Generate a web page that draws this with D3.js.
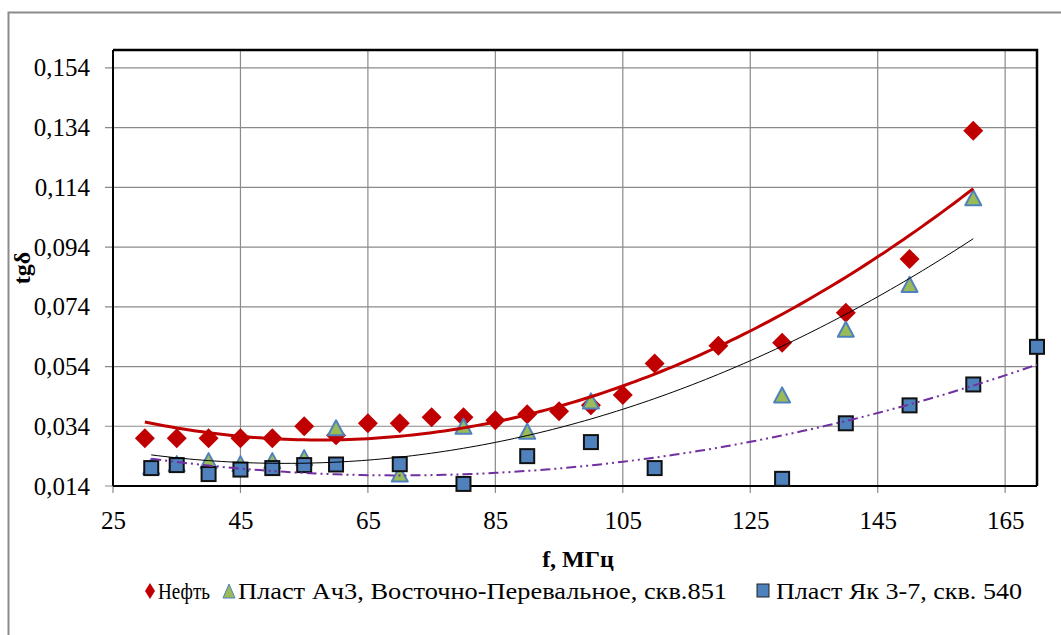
<!DOCTYPE html>
<html>
<head>
<meta charset="utf-8">
<script src="https://cdn.jsdelivr.net/npm/d3@7"></script>
<style>
  body { margin: 0; background: #fff; }
  svg { display: block; }
</style>
</head>
<body>
<svg id="chart" width="1061" height="635"></svg>
<script>
// data
const oilF   = [30, 35, 40, 45, 50, 55, 60, 65, 70, 75, 80, 85, 90, 95, 100, 105, 110, 120, 130, 140, 150, 160];
const oilTg  = [0.030, 0.030, 0.030, 0.030, 0.030, 0.034, 0.031, 0.035, 0.035, 0.037, 0.037, 0.036, 0.038, 0.039, 0.041, 0.0445, 0.055, 0.061, 0.062, 0.072, 0.090, 0.133];

const ach3F  = [31, 35, 40, 45, 50, 55, 60, 70, 80, 90, 100, 130, 140, 150, 160];
const ach3Tg = [0.020, 0.021, 0.022, 0.021, 0.022, 0.023, 0.033, 0.0175, 0.0335, 0.0318, 0.042, 0.044, 0.066, 0.081, 0.110];

const yakF   = [31, 35, 40, 45, 50, 55, 60, 70, 80, 90, 100, 110, 130, 140, 150, 160, 170];
const yakTg  = [0.020, 0.021, 0.018, 0.0195, 0.020, 0.021, 0.0212, 0.0213, 0.0147, 0.024, 0.0287, 0.020, 0.0164, 0.035, 0.041, 0.048, 0.0606];

const xTicks = [25, 45, 65, 85, 105, 125, 145, 165];
const yTicks = [0.014, 0.034, 0.054, 0.074, 0.094, 0.114, 0.134, 0.154];

const seriesNames = ["Нефть", "Пласт Ач3, Восточно-Перевальное, скв.851", "Пласт Як 3-7, скв. 540"];

const serif = "Liberation Serif";
const svg = d3.select("#chart");
const pLeft = 113, pRight = 1037, pTop = 50, pBottom = 486;

const x = d3.scaleLinear().domain([25, 170]).range([pLeft, pRight]);
const y = d3.scaleLinear().domain([0.014, 0.16]).range([pBottom, pTop]);

const ru = d3.formatLocale({decimal: ",", thousands: " ", grouping: [3], currency: ["", ""]});
const fmtY = ru.format(".3f");

// outer chart frame
svg.append("rect")
  .attr("x", 8.5).attr("y", 12.5).attr("width", 1070).attr("height", 640)
  .attr("fill", "none").attr("stroke", "#8c8c8c").attr("stroke-width", 2);

// grid
const grid = svg.append("g");
grid.selectAll("line.v").data(xTicks).enter().append("line")
  .attr("x1", d => x(d)).attr("x2", d => x(d))
  .attr("y1", pTop).attr("y2", pBottom + 7)
  .attr("stroke", "#8a8a8a").attr("stroke-width", 1.2);
grid.selectAll("line.h").data(yTicks).enter().append("line")
  .attr("x1", pLeft - 8).attr("x2", pRight)
  .attr("y1", d => y(d)).attr("y2", d => y(d))
  .attr("stroke", "#8a8a8a").attr("stroke-width", 1.2);

// axes
const xAxis = svg.append("g")
  .attr("transform", `translate(0,${pBottom})`)
  .call(d3.axisBottom(x).tickValues(xTicks).tickSize(0).tickSizeOuter(0).tickPadding(20).tickFormat(d3.format("d")));
const yAxis = svg.append("g")
  .attr("transform", `translate(${pLeft},0)`)
  .call(d3.axisLeft(y).tickValues(yTicks).tickSize(0).tickSizeOuter(0).tickPadding(23).tickFormat(fmtY));
[xAxis, yAxis].forEach(a => {
  a.select(".domain").remove();
  a.selectAll("text").attr("font-size", 25).attr("font-family", serif).attr("fill", "#000");
});
xAxis.selectAll("text").attr("dy", "0.35em").attr("y", 34);

// plot frame
svg.append("line").attr("x1", pLeft).attr("x2", pRight).attr("y1", pBottom).attr("y2", pBottom)
  .attr("stroke", "#000").attr("stroke-width", 2);
svg.append("line").attr("x1", pLeft).attr("x2", pLeft).attr("y1", pTop).attr("y2", pBottom)
  .attr("stroke", "#000").attr("stroke-width", 2);
svg.append("path").attr("d", `M${pLeft},${pTop}H${pRight}V${pBottom}`)
  .attr("fill", "none").attr("stroke", "#000").attr("stroke-width", 2.5);

// markers
const plot = svg.append("g");
plot.selectAll("path.oil").data(oilF).enter().append("path")
  .attr("transform", (d, i) => `translate(${x(d)},${y(oilTg[i])})`)
  .attr("d", "M0,-10L10,0L0,10L-10,0Z")
  .attr("fill", "#c00000");

plot.selectAll("path.ach").data(ach3F).enter().append("path")
  .attr("transform", (d, i) => `translate(${x(d)},${y(ach3Tg[i])})`)
  .attr("d", "M0,-9L8,6L-8,6Z")
  .attr("fill", "#9bbb59").attr("stroke", "#4f81bd").attr("stroke-width", 2).attr("stroke-linejoin", "round");

plot.selectAll("rect.yak").data(yakF).enter().append("rect")
  .attr("x", d => x(d) - 7).attr("y", (d, i) => y(yakTg[i]) - 7)
  .attr("width", 14).attr("height", 14)
  .attr("fill", "#4f81bd").attr("stroke", "#111").attr("stroke-width", 2);

// quadratic least-squares trend (like the spreadsheet's polynomial trendline)
function polyFit(xs, ys) {
  let S = [[0, 0, 0], [0, 0, 0], [0, 0, 0]], B = [0, 0, 0];
  xs.forEach((xv, i) => {
    const p = [1, xv, xv * xv];
    for (let r = 0; r < 3; r++) {
      B[r] += p[r] * ys[i];
      for (let c = 0; c < 3; c++) S[r][c] += p[r] * p[c];
    }
  });
  // gaussian elimination
  for (let k = 0; k < 3; k++) {
    for (let r = k + 1; r < 3; r++) {
      const m = S[r][k] / S[k][k];
      for (let c = k; c < 3; c++) S[r][c] -= m * S[k][c];
      B[r] -= m * B[k];
    }
  }
  const a = [0, 0, 0];
  for (let r = 2; r >= 0; r--) {
    let s = B[r];
    for (let c = r + 1; c < 3; c++) s -= S[r][c] * a[c];
    a[r] = s / S[r][r];
  }
  return f => a[0] + a[1] * f + a[2] * f * f;
}

function trend(xs, ys) {
  const fn = polyFit(xs, ys);
  const lo = d3.min(xs), hi = d3.max(xs);
  return d3.range(lo, hi + 0.01, 1).map(f => [f, fn(f)]);
}

const line = d3.line().x(d => x(d[0])).y(d => y(d[1])).curve(d3.curveLinear);

svg.append("path").datum(trend(oilF, oilTg)).attr("d", line)
  .attr("fill", "none").attr("stroke", "#c00000").attr("stroke-width", 3);
svg.append("path").datum(trend(ach3F, ach3Tg)).attr("d", line)
  .attr("fill", "none").attr("stroke", "#000").attr("stroke-width", 1);
svg.append("path").datum(trend(yakF, yakTg)).attr("d", line)
  .attr("fill", "none").attr("stroke", "#7030a0").attr("stroke-width", 2)
  .attr("stroke-dasharray", "10,4,2,4,2,4");

// axis titles
svg.append("text").attr("x", 578).attr("y", 567).attr("text-anchor", "middle")
  .attr("font-family", serif).attr("font-size", 24).attr("font-weight", "bold").text("f, МГц");
svg.append("text").attr("transform", "translate(30,268) rotate(-90)").attr("text-anchor", "middle")
  .attr("font-family", serif).attr("font-size", 24).attr("font-weight", "bold").text("tgδ");

// legend
const legendText = (lx, name, w) => svg.append("text")
  .attr("x", lx).attr("y", 599)
  .attr("font-family", serif).attr("font-size", 24).attr("fill", "#000")
  .attr("textLength", w).attr("lengthAdjust", "spacingAndGlyphs")
  .text(name);
svg.append("path").attr("d", "M150,583L155,591L150,599L145,591Z").attr("fill", "#c00000");
legendText(158, seriesNames[0], 52);
svg.append("path").attr("d", "M229,584L235,598L223,598Z").attr("fill", "#9bbb59").attr("stroke", "#4f81bd").attr("stroke-width", 1);
legendText(238, seriesNames[1], 489);
svg.append("rect").attr("x", 757).attr("y", 584).attr("width", 12).attr("height", 13)
  .attr("fill", "#4f81bd").attr("stroke", "#222").attr("stroke-width", 1);
legendText(776, seriesNames[2], 246);
</script>
</body>
</html>
